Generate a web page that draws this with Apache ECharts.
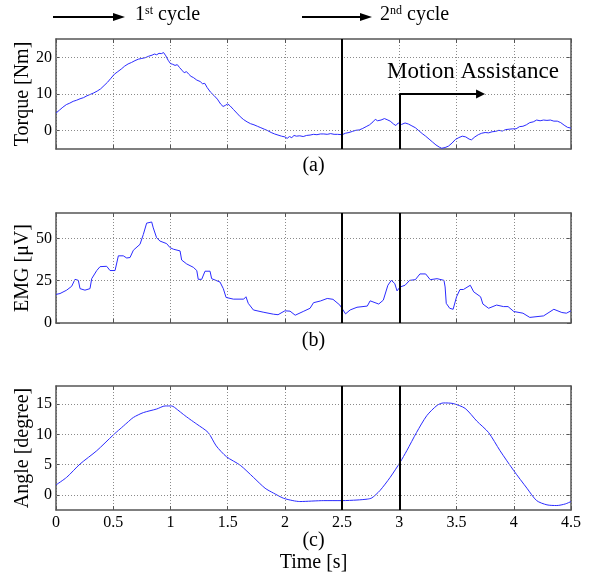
<!DOCTYPE html>
<html><head><meta charset="utf-8">
<script src="https://cdn.jsdelivr.net/npm/echarts@6/dist/echarts.min.js"></script>
<style>html,body{margin:0;padding:0;background:#fff}#c{width:590px;height:575px}</style>
</head><body><div id="c"></div>
<script>
// ---- data ----
const xTicks = [0, 0.5, 1, 1.5, 2, 2.5, 3, 3.5, 4, 4.5];
const torqueTicks = [0, 10, 20];
const emgTicks = [0, 25, 50];
const angleTicks = [0, 5, 10, 15];
const cycleMarkers = [2.5, 3.0];
const assistArrow = [3.0, 10, 3.71]; // start time, level, end time

const torqueT = [0,0.03,0.06,0.09,0.12,0.15,0.18,0.21,0.24,0.27,0.30,0.33,0.36,0.39,0.42,0.45,0.48,0.51,0.54,0.57,0.60,0.63,0.66,0.69,0.72,0.75,0.78,0.81,0.84,0.86,0.88,0.90,0.92,0.94,0.96,0.98,1.00,1.02,1.04,1.06,1.08,1.10,1.12,1.14,1.16,1.18,1.20,1.23,1.26,1.28,1.30,1.32,1.35,1.38,1.41,1.44,1.46,1.48,1.50,1.52,1.55,1.58,1.61,1.64,1.67,1.70,1.73,1.76,1.79,1.82,1.85,1.88,1.91,1.94,1.97,2.00,2.02,2.04,2.06,2.08,2.10,2.13,2.16,2.19,2.22,2.25,2.28,2.31,2.34,2.37,2.40,2.43,2.46,2.50,2.53,2.56,2.59,2.62,2.65,2.68,2.71,2.74,2.77,2.79,2.81,2.84,2.87,2.90,2.92,2.95,2.97,2.99,3.02,3.05,3.08,3.11,3.14,3.17,3.20,3.23,3.26,3.29,3.32,3.35,3.37,3.40,3.43,3.46,3.49,3.52,3.55,3.58,3.61,3.63,3.66,3.69,3.72,3.75,3.78,3.81,3.84,3.87,3.90,3.93,3.96,3.99,4.02,4.05,4.08,4.11,4.14,4.17,4.20,4.23,4.26,4.29,4.32,4.35,4.38,4.41,4.44,4.47,4.50];
const torqueV = [4.8,5.6,6.4,7.1,7.5,8.0,8.3,8.7,9.0,9.5,9.9,10.3,10.8,11.4,12.3,13.2,14.3,15.4,16.1,16.8,17.6,18.2,18.6,19.1,19.5,19.7,19.9,20.3,20.6,20.9,20.7,21.1,21.0,21.3,20.4,19.2,18.3,18.1,17.8,18.0,17.2,16.5,15.8,16.1,15.4,14.8,14.5,13.8,13.4,12.8,12.9,11.8,10.5,9.6,8.6,7.2,6.6,6.9,7.3,6.8,5.8,4.8,3.8,3.0,2.4,1.9,1.6,1.2,0.8,0.4,0.0,-0.5,-0.9,-1.2,-1.5,-1.7,-2.1,-1.6,-1.9,-1.3,-1.5,-1.4,-1.6,-1.3,-1.2,-1.0,-1.1,-0.9,-0.9,-1.0,-0.8,-1.0,-1.0,-1.1,-0.7,-0.5,-0.2,0.1,0.2,0.6,1.1,1.6,2.4,3.1,2.7,2.9,3.3,2.9,2.6,1.8,1.4,2.1,1.7,2.1,1.8,1.3,0.8,0.0,-0.8,-1.5,-2.3,-3.1,-3.9,-4.5,-4.8,-4.6,-4.2,-3.4,-2.4,-1.9,-1.5,-1.7,-2.3,-2.5,-1.7,-1.1,-0.7,-0.5,-0.6,-0.3,-0.2,0.1,-0.1,0.3,0.4,0.5,0.5,1.1,1.2,1.6,2.2,2.4,2.9,2.7,2.9,2.8,2.9,2.6,2.6,2.2,1.5,0.9,0.7];

const emgT = [0,0.035,0.093,0.137,0.166,0.195,0.21,0.253,0.297,0.312,0.356,0.385,0.443,0.472,0.516,0.545,0.588,0.618,0.647,0.676,0.734,0.763,0.792,0.836,0.85,0.879,0.909,0.967,0.997,1.026,1.084,1.098,1.142,1.2,1.23,1.243,1.273,1.302,1.346,1.36,1.433,1.462,1.486,1.55,1.64,1.66,1.68,1.725,1.81,1.9,1.94,2.0,2.045,2.09,2.16,2.22,2.25,2.31,2.37,2.42,2.48,2.53,2.57,2.63,2.72,2.745,2.82,2.86,2.90,2.93,2.96,2.98,3.007,3.05,3.09,3.14,3.18,3.23,3.27,3.33,3.39,3.40,3.41,3.44,3.47,3.50,3.53,3.56,3.62,3.65,3.71,3.73,3.78,3.85,3.91,3.95,4.0,4.08,4.14,4.26,4.35,4.42,4.46,4.5];
const emgV = [16.9,17.4,19.4,21.7,25.8,25.2,20.3,19.4,20.3,26.2,31,33.3,33.5,31,31,39.7,39.7,38.4,38.7,43,46.5,52.3,59,59.7,56.2,50.4,48.4,46.9,44.5,43.6,42.6,37.2,34.9,32.9,31,25.8,25.8,30.6,30.6,26.2,24.2,20.3,15.1,14.1,14.1,15.5,11.6,7.7,6.4,5.2,4.9,7.2,7.0,4.6,6.8,8.7,12,13,14.5,14,10.6,5.4,7.7,9.3,10,13.1,11.2,13.5,22.3,25.2,23.3,19,21.3,22.3,25.2,25.6,29,29,25.6,26.2,25.2,21.3,11.6,8.7,8.1,15.5,19.8,19.8,22.3,18.4,15.5,11.2,8.7,10.6,9.7,9.7,6.8,5.8,3.3,4.2,8.1,6.2,5.8,7.2];

const angleT = [0,0.093,0.21,0.356,0.5,0.56,0.62,0.676,0.763,0.88,0.953,1.01,1.06,1.113,1.17,1.23,1.33,1.40,1.49,1.61,1.725,1.827,1.9,1.987,2.07,2.13,2.34,2.5,2.63,2.72,2.76,2.83,2.92,3.007,3.065,3.15,3.24,3.33,3.385,3.47,3.575,3.677,3.78,3.88,4.0,4.115,4.2,4.29,4.376,4.45,4.5];
const angleV = [1.65,2.9,5.1,7.3,9.9,10.9,11.9,12.8,13.6,14.2,14.7,14.7,14.1,13.3,12.5,11.7,10.3,8.1,6.3,4.9,2.9,1.1,0.3,-0.55,-0.95,-1.1,-0.95,-0.95,-0.85,-0.7,-0.5,0.7,2.9,5.4,7.3,10.3,13.1,14.8,15.2,15.1,14.3,12.2,10.3,7.3,4.0,1.1,-0.95,-1.65,-1.76,-1.5,-1.1];

const zip = (a, b) => a.map((t, i) => [t, b[i]]);

// ---- chart ----
const FONT = 'Liberation Serif';
const AX = '#555';
const GRIDLINE = {color: '#8a8a8a', type: [1, 2], width: 1};
const chart = echarts.init(document.getElementById('c'));

const grids = [
  {left: 56, top: 39, width: 515, height: 110},
  {left: 56, top: 213, width: 515, height: 110},
  {left: 56, top: 386, width: 515, height: 124}
];
const yRanges = [[-5, 25], [0, 65], [-2.5, 18]];
const yTickSets = [torqueTicks, emgTicks, angleTicks];
const yNames = ['Torque [Nm]', 'EMG [μV]', 'Angle [degree]'];
const xNames = ['(a)', '(b)', '(c)\nTime [s]'];
const xNameGaps = [6, 7, 20];

const axLine = {show: true, onZero: false, lineStyle: {color: AX, width: 1.5}};
const xAxes = [], yAxes = [];
for (let i = 0; i < 3; i++) {
  xAxes.push({
    type: 'value', gridIndex: i, min: 0, max: 4.5, interval: 0.5, position: 'bottom',
    axisLine: axLine,
    axisTick: {show: true, inside: true, length: 4, lineStyle: {color: AX}},
    axisLabel: {show: i === 2, fontFamily: FONT, fontSize: 16, color: '#000', margin: 5},
    splitLine: {show: true, lineStyle: GRIDLINE},
    name: xNames[i], nameLocation: 'middle', nameGap: xNameGaps[i], nameMoveOverlap: false,
    nameTextStyle: {fontFamily: FONT, fontSize: 20, color: '#000', lineHeight: 22}
  });
  xAxes.push({
    type: 'value', gridIndex: i, min: 0, max: 4.5, interval: 0.5, position: 'top',
    axisLine: axLine,
    axisTick: {show: true, inside: true, length: 4, lineStyle: {color: AX}},
    axisLabel: {show: false}, splitLine: {show: false}
  });
  yAxes.push({
    type: 'value', gridIndex: i, min: yRanges[i][0], max: yRanges[i][1], position: 'left',
    axisLine: axLine,
    axisTick: {show: true, inside: true, length: 4, lineStyle: {color: AX}, customValues: yTickSets[i]},
    axisLabel: {fontFamily: FONT, fontSize: 16, color: '#000', margin: 4, customValues: yTickSets[i]},
    splitLine: {show: false},
    name: yNames[i], nameLocation: 'middle', nameGap: 23, nameRotate: 90, nameMoveOverlap: false,
    nameTextStyle: {fontFamily: FONT, fontSize: 20, color: '#000'}
  });
  yAxes.push({
    type: 'value', gridIndex: i, min: yRanges[i][0], max: yRanges[i][1], position: 'right',
    axisLine: axLine,
    axisTick: {show: true, inside: true, length: 4, lineStyle: {color: AX}, customValues: yTickSets[i]},
    axisLabel: {show: false, customValues: yTickSets[i]}, splitLine: {show: false}
  });
}

const blackLine = {color: '#000', width: 2, type: 'solid'};
const vLines = cycleMarkers.map(v => ({xAxis: v}));

const seriesData = [zip(torqueT, torqueV), zip(emgT, emgV), zip(angleT, angleV)];
const series = [];
// horizontal dotted grid lines at the tick values (behind data)
yTickSets.forEach((ticks, i) => {
  series.push({
    type: 'line', xAxisIndex: 2 * i, yAxisIndex: 2 * i, data: [], z: 1, animation: false,
    markLine: {silent: true, symbol: 'none', animation: false, label: {show: false},
      lineStyle: GRIDLINE,
      data: ticks.filter(v => v > yRanges[i][0] && v < yRanges[i][1]).map(v => ({yAxis: v}))}
  });
});
seriesData.forEach((d, i) => {
  series.push({
    type: 'line', xAxisIndex: 2 * i, yAxisIndex: 2 * i, data: d, showSymbol: false,
    smooth: i === 2 ? 0.25 : false, animation: false,
    lineStyle: {color: '#2b2bff', width: 1}, z: 3,
    markLine: {
      silent: true, symbol: 'none', animation: false, label: {show: false},
      lineStyle: blackLine,
      data: i === 0 ? [
        {xAxis: cycleMarkers[0]},
        [{coord: [assistArrow[0], yRanges[0][0]]}, {coord: [assistArrow[0], assistArrow[1]]}],
        [{coord: [assistArrow[0], assistArrow[1]], symbol: 'none'},
         {coord: [assistArrow[2], assistArrow[1]], symbol: 'triangle', symbolSize: [9, 9], symbolRotate: -90}]
      ] : vLines
    }
  });
});

function topArrow(x1, x2, y) {
  return [
    {type: 'line', shape: {x1: x1, y1: y, x2: x2 - 10, y2: y}, style: {stroke: '#000', lineWidth: 2}},
    {type: 'polygon', shape: {points: [[x2 - 12, y - 4], [x2, y], [x2 - 12, y + 4]]}, style: {fill: '#000'}}
  ];
}
const supRich = {
  base: {fontSize: 20, fontFamily: FONT, color: '#000'},
  sup: {fontSize: 12, fontFamily: FONT, color: '#000', verticalAlign: 'top', padding: [0, 0, 8, 0]}
};

chart.setOption({
  animation: false,
  backgroundColor: '#fff',
  grid: grids,
  xAxis: xAxes,
  yAxis: yAxes,
  series: series,
  graphic: [
    ...topArrow(53, 125, 17),
    {type: 'text', left: 135, top: 5, style: {
      text: '{base|1}{sup|st}{base| cycle}', fontSize: 20, fontFamily: FONT, fill: '#000', rich: supRich}},
    ...topArrow(302, 372, 17),
    {type: 'text', left: 380, top: 5, style: {
      text: '{base|2}{sup|nd}{base| cycle}', fontSize: 20, fontFamily: FONT, fill: '#000', rich: supRich}},
    {type: 'text', left: 387, top: 60, style: {
      text: 'Motion Assistance', fontSize: 23, fontFamily: FONT, fill: '#000'}}
  ]
});
</script></body></html>
